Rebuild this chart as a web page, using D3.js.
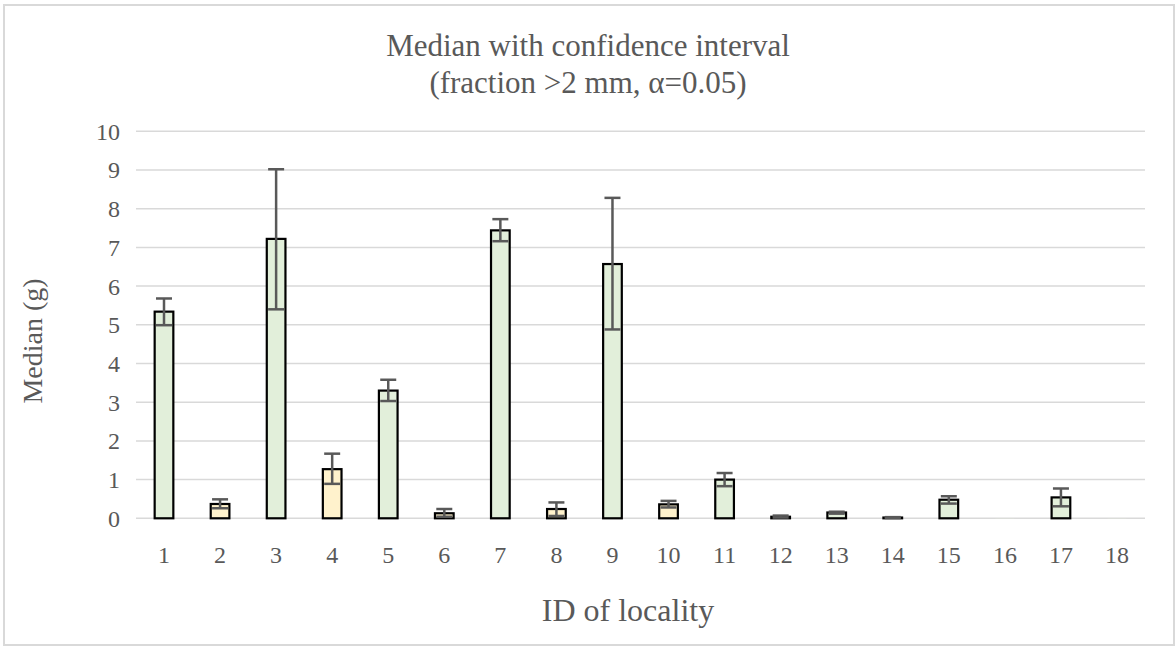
<!DOCTYPE html>
<html><head><meta charset="utf-8">
<script src="https://cdn.jsdelivr.net/npm/d3@7"></script>
<style>body{margin:0;background:#fff}svg{display:block}</style>
</head><body>
<svg id="c" width="1176" height="646"></svg>
<script>
const categories = ["1","2","3","4","5","6","7","8","9","10","11","12","13","14","15","16","17","18"];
const medians = [5.34,0.37,7.22,1.27,3.30,0.13,7.44,0.24,6.57,0.36,1.00,0.04,0.15,0.02,0.48,0.005,0.54,0.005];
const upper   = [5.68,0.49,9.02,1.67,3.58,0.24,7.73,0.41,8.28,0.45,1.17,0.07,0.17,0.03,0.57,null,0.77,null];
const lower   = [4.99,0.26,5.40,0.89,3.03,0.04,7.16,0.06,4.88,0.28,0.83,0.02,0.12,0.01,0.38,null,0.31,null];
const groups  = ["g","y","g","y","g","y","g","y","g","y","g","g","g","g","g","g","g","g"];
const yTicks = [0,1,2,3,4,5,6,7,8,9,10];
const titleLines = ["Median with confidence interval","(fraction >2 mm, α=0.05)"];
const xTitle = "ID of locality";
const yTitle = "Median (g)";

const svg = d3.select("#c");
const m = {l:136, r:1145, t:131.3, b:518.3};
const font = "'Liberation Serif','Times New Roman',serif";
const grey = "#595959";

svg.append("rect").attr("x",4).attr("y",5).attr("width",1170).attr("height",640)
  .attr("fill","#fff").attr("stroke","#d9d9d9").attr("stroke-width",2);

const x = d3.scaleBand().domain(categories).range([m.l,m.r]).paddingInner(0.667).paddingOuter(0.333);
const y = d3.scaleLinear().domain([0,10]).range([m.b,m.t]);
const color = d3.scaleOrdinal().domain(["g","y"]).range(["#E2EFDA","#FFF2CC"]);

// grid
svg.append("g").selectAll("line").data(yTicks).join("line")
  .attr("x1",m.l).attr("x2",m.r).attr("y1",d=>y(d)).attr("y2",d=>y(d))
  .attr("stroke","#d9d9d9").attr("stroke-width",1.5);

// y axis labels
const yAxis = d3.axisLeft(y).tickValues(yTicks).tickSize(0).tickPadding(0).tickFormat(d3.format("d"));
const ya = svg.append("g").attr("transform",`translate(${m.l-16},0)`).call(yAxis);
ya.select(".domain").remove();
ya.selectAll("text").attr("font-family",font).attr("font-size",24).attr("fill",grey).attr("dy","0.33em");

// x axis labels
const xAxis = d3.axisBottom(x).tickSize(0).tickPadding(0);
const xa = svg.append("g").attr("transform",`translate(0,${m.b})`).call(xAxis);
xa.select(".domain").remove();
xa.selectAll("text").attr("font-family",font).attr("font-size",24).attr("fill",grey)
  .attr("y",563-m.b).attr("dy","0");

// bars
const data = categories.map((c,i)=>({c, v:medians[i], hi:upper[i], lo:lower[i], g:groups[i]}));
svg.append("g").selectAll("rect").data(data).join("rect")
  .attr("x",d=>x(d.c)).attr("width",x.bandwidth())
  .attr("y",d=>y(d.v)).attr("height",d=>y(0)-y(d.v))
  .attr("fill",d=>color(d.g))
  .attr("stroke",d=>d.v>0.01?"#000":"none").attr("stroke-width",2.2);

// error bars
const eb = svg.append("g").attr("stroke",grey).attr("stroke-width",2.5).attr("fill","none");
const ed = data.filter(d=>d.hi!=null);
const cx = d=>x(d.c)+x.bandwidth()/2;
eb.selectAll("line.v").data(ed).join("line").attr("class","v")
  .attr("x1",cx).attr("x2",cx).attr("y1",d=>y(d.hi)).attr("y2",d=>y(d.lo));
eb.selectAll("line.h").data(ed).join("line").attr("class","h")
  .attr("x1",d=>cx(d)-8).attr("x2",d=>cx(d)+8).attr("y1",d=>y(d.hi)).attr("y2",d=>y(d.hi));
eb.selectAll("line.l").data(ed).join("line").attr("class","l")
  .attr("x1",d=>cx(d)-8).attr("x2",d=>cx(d)+8).attr("y1",d=>y(d.lo)).attr("y2",d=>y(d.lo));

// title
const t = svg.append("text").attr("text-anchor","middle").attr("font-family",font)
  .attr("font-size",31).attr("fill",grey);
titleLines.forEach((s,i)=>t.append("tspan").attr("x",588).attr("y",56+i*37).text(s));

svg.append("text").attr("x",628).attr("y",621).attr("text-anchor","middle")
  .attr("font-family",font).attr("font-size",32).attr("fill",grey).text(xTitle);
svg.append("text").attr("transform","translate(42,341) rotate(-90)").attr("text-anchor","middle")
  .attr("font-family",font).attr("font-size",28).attr("fill",grey).text(yTitle);
</script>
</body></html>
